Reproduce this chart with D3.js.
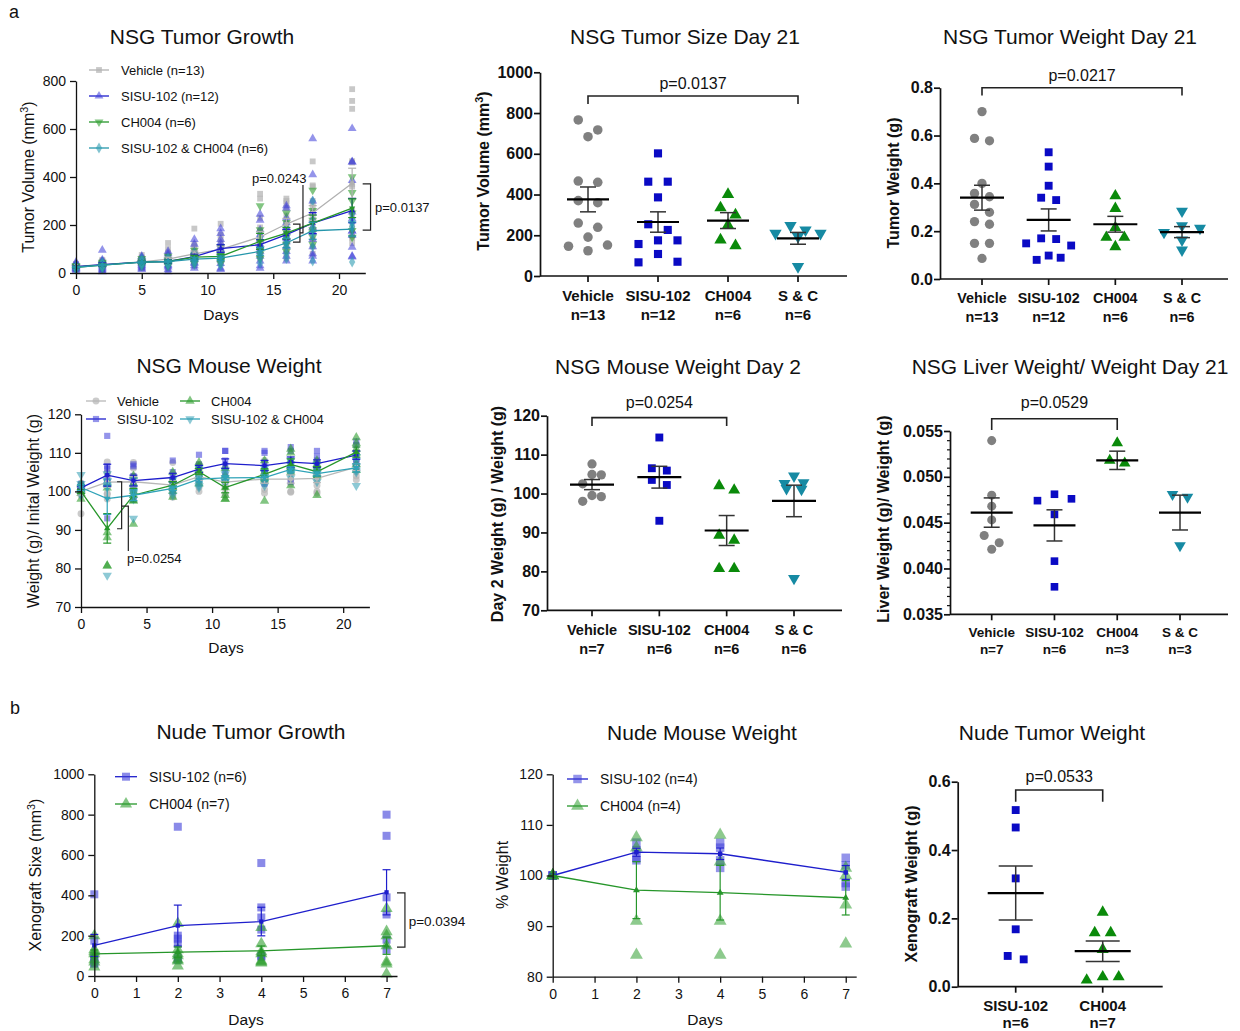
<!DOCTYPE html>
<html lang="en">
<head>
<meta charset="utf-8">
<title>NSG and Nude xenograft panels</title>
<style>
  body { margin: 0; background: #fff; }
  svg { font-family: "Liberation Sans", Arial, Helvetica, sans-serif; }
  text { fill: #111; }
</style>
</head>
<body>
<svg id="fig" width="1240" height="1031"></svg>
<script src="https://cdn.jsdelivr.net/npm/d3@7"></script>
<script>
// ---------- a: NSG tumor growth (mm3), per day ----------
var tgDays = [0, 2, 5, 7, 9, 11, 14, 16, 18, 21];
var tgNames = ["Vehicle (n=13)", "SISU-102 (n=12)", "CH004 (n=6)", "SISU-102 & CH004 (n=6)"];
var tgVehicleMean = [28, 35, 46, 58, 80, 98, 150, 204, 250, 374];
var tgSisuMean = [26, 35, 45, 48, 68, 102, 118, 160, 208, 260];
var tgCh004Mean = [24, 33, 45, 48, 66, 69, 132, 166, 208, 270];
var tgComboMean = [24, 33, 45, 48, 58, 62, 90, 125, 176, 183];
var tgVehiclePts = [
  [15, 18, 20, 22, 24, 25, 26, 28, 30, 30, 32, 35, 38],
  [15, 20, 25, 28, 30, 32, 35, 38, 40, 45, 48, 50, 55],
  [20, 25, 30, 35, 40, 42, 45, 50, 55, 60, 62, 65, 75],
  [20, 30, 35, 40, 45, 50, 55, 60, 65, 75, 85, 100, 125],
  [30, 40, 45, 55, 60, 65, 75, 80, 90, 100, 110, 120, 185],
  [40, 50, 60, 70, 80, 85, 95, 100, 110, 120, 140, 160, 205],
  [60, 80, 95, 110, 120, 130, 140, 155, 170, 190, 230, 310, 330],
  [60, 80, 110, 130, 150, 170, 190, 210, 240, 270, 290, 300, 310],
  [80, 110, 140, 170, 200, 220, 240, 260, 280, 300, 360, 365, 465],
  [766, 717, 684, 466, 460, 370, 360, 260, 239, 191, 152, 146, 124]
];
var tgSisuPts = [
  [10, 15, 18, 20, 22, 25, 28, 30, 32, 35, 40, 45],
  [5, 10, 15, 20, 25, 30, 35, 40, 45, 50, 55, 95],
  [15, 20, 25, 30, 35, 40, 45, 50, 55, 60, 65, 70],
  [5, 15, 25, 30, 35, 45, 50, 55, 60, 70, 80, 90],
  [20, 30, 40, 45, 55, 60, 65, 75, 80, 90, 120, 140],
  [15, 20, 40, 55, 70, 85, 100, 110, 125, 140, 165, 185],
  [20, 30, 50, 70, 90, 110, 120, 140, 160, 180, 220, 245],
  [50, 70, 90, 110, 130, 150, 170, 190, 210, 230, 270, 280],
  [50, 70, 80, 110, 140, 170, 190, 220, 250, 300, 410, 560],
  [602, 463, 463, 386, 254, 226, 175, 175, 157, 108, 70, 67]
];
var tgCh004Pts = [
  [15, 20, 22, 25, 28, 30],
  [20, 25, 30, 35, 40, 45],
  [30, 35, 40, 45, 50, 60],
  [30, 35, 45, 50, 55, 70],
  [40, 50, 60, 65, 75, 95],
  [40, 50, 60, 70, 80, 110],
  [60, 80, 100, 130, 180, 280],
  [90, 120, 150, 170, 210, 250],
  [120, 150, 180, 220, 260, 345],
  [401, 335, 300, 250, 177, 149]
];
var tgComboPts = [
  [15, 18, 20, 22, 25, 30],
  [20, 25, 30, 35, 40, 45],
  [30, 35, 40, 45, 50, 60],
  [30, 35, 40, 50, 55, 65],
  [35, 45, 55, 60, 70, 85],
  [30, 45, 55, 65, 70, 95],
  [40, 60, 80, 95, 115, 150],
  [60, 80, 110, 130, 150, 190],
  [50, 110, 160, 190, 220, 300],
  [46, 193, 209, 209, 226, 247]
];

// ---------- a: NSG mouse weight (% of initial) ----------
var mwDays = [0, 2, 4, 7, 9, 11, 14, 16, 18, 21];
var mwNames = ["Vehicle", "SISU-102", "CH004", "SISU-102 & CH004"];
var mwVehicleMean = [100, 102.4, 102.5, 101.6, 103.8, 102.4, 103.2, 103.2, 103.4, 106.3];
var mwSisuMean = [100.9, 104.2, 102.8, 103.6, 105.8, 107.2, 106.7, 107.6, 107.2, 109.4];
var mwCh004Mean = [100, 90.4, 99, 101.6, 105.1, 101, 104.4, 107, 105.1, 110.2];
var mwComboMean = [101, 98.1, 99, 100.8, 103.2, 103.5, 103.6, 105.7, 104.6, 106.1];
var mwVehiclePts = [
  [94.2, 99, 100, 100, 100.5, 101, 102],
  [107.6, 104.9, 104.8, 102.5, 99.5, 99.2, 98],
  [107.5, 106, 104, 102, 100.5, 99.5, 98],
  [107.5, 103, 102, 101.5, 100, 99, 98.5],
  [107, 105, 104, 103.5, 102, 101, 100],
  [106, 104, 103, 102, 101, 99.5, 99],
  [108, 105, 104, 103, 102, 100.5, 99.5],
  [107, 106, 104.5, 103, 102, 100, 99.8],
  [107.5, 106, 104.5, 103, 101.5, 100, 99.5],
  [110, 108, 107, 106, 105, 104, 103]
];
var mwSisuPts = [
  [100, 100.5, 101, 101, 101.5, 102],
  [114.4, 106.5, 105.9, 103.5, 102.2, 93],
  [107, 106.5, 104, 102, 101, 98],
  [108, 105, 104, 103, 102.5, 100],
  [109.5, 107, 106.5, 105.5, 104, 103],
  [110.5, 110.5, 108, 106.5, 105, 103],
  [110.5, 110, 107.5, 106, 104.5, 102],
  [111.5, 110.5, 108, 106.5, 106, 102.5],
  [110.5, 109, 108, 106.5, 105.5, 104],
  [113, 112, 110, 108.5, 107, 106.5]
];
var mwCh004Pts = [
  [98, 99.5, 100, 100.5, 101, 102],
  [102, 100.9, 89.3, 88, 80.7, 80.7],
  [104, 102, 100, 99, 97.5, 91.5],
  [105, 103, 102, 101, 100, 98.5],
  [107.5, 106.5, 105.5, 105, 104, 102],
  [106, 104, 101, 99, 98, 98],
  [108, 106, 105, 104, 103, 97.5],
  [111, 110, 108, 106.5, 105, 101.5],
  [108, 107, 106, 104.5, 104, 99],
  [114, 112.5, 111, 110, 107, 105.5]
];
var mwComboPts = [
  [104.3, 102, 101, 100.5, 99.5, 99],
  [104.5, 102.8, 102.6, 101.3, 101.1, 78.2],
  [103, 101, 100, 99.5, 98, 93],
  [103, 102, 101, 100.5, 100, 99],
  [106, 104.5, 103, 102.5, 101.5, 101],
  [105.5, 104.5, 103.5, 103, 102.5, 102],
  [106, 105, 103.5, 103, 102.5, 101.5],
  [108, 107, 105.5, 105, 104.5, 103.5],
  [107, 105.5, 104.5, 104, 103.5, 102.5],
  [109, 108, 106.5, 105.5, 105, 101.5]
];

// ---------- a: day-21 / day-2 dot plots ----------
var nsgCats = ["Vehicle", "SISU-102", "CH004", "S & C"];
var sizeN = ["n=13", "n=12", "n=6", "n=6"];
var sizeVals = [
  [766, 717, 684, 466, 460, 370, 360, 260, 239, 191, 152, 146, 124],
  [602, 463, 463, 386, 254, 226, 175, 175, 157, 108, 70, 67],
  [401, 335, 300, 250, 177, 149],
  [247, 226, 209, 209, 193, 46]
];
var sizeMean = [376, 265, 272, 185];
var sizeSem = [61, 50, 39, 29];

var weightN = ["n=13", "n=12", "n=6", "n=6"];
var weightVals = [
  [0.70, 0.588, 0.578, 0.40, 0.358, 0.344, 0.312, 0.279, 0.24, 0.229, 0.149, 0.149, 0.086],
  [0.53, 0.47, 0.39, 0.34, 0.33, 0.17, 0.167, 0.149, 0.14, 0.098, 0.089, 0.08],
  [0.348, 0.295, 0.215, 0.174, 0.174, 0.135],
  [0.284, 0.223, 0.212, 0.195, 0.163, 0.121]
];
var weightMean = [0.34, 0.247, 0.229, 0.196];
var weightSem = [0.052, 0.046, 0.033, 0.023];

var day2N = ["n=7", "n=6", "n=6", "n=6"];
var day2Vals = [
  [107.6, 104.9, 104.8, 102.5, 99.5, 99.2, 98],
  [114.4, 106.5, 105.9, 103.5, 102.2, 93],
  [102, 100.9, 89.3, 88, 80.7, 80.7],
  [104.5, 102.8, 102.6, 101.3, 101.1, 78.2]
];
var day2Mean = [102.3, 104.2, 90.5, 98.1];
var day2Sem = [1.3, 2.8, 3.85, 4.05];

var liverN = ["n=7", "n=6", "n=3", "n=3"];
var liverVals = [
  [0.05395, 0.048, 0.0468, 0.0453, 0.0436, 0.0428, 0.0421],
  [0.0481, 0.0476, 0.0474, 0.0459, 0.0408, 0.038],
  [0.0537, 0.0518, 0.0515],
  [0.0481, 0.0478, 0.0425]
];
var liverMean = [0.0461, 0.0447, 0.0518, 0.0461];
var liverSem = [0.0016, 0.0017, 0.0010, 0.0019];

// ---------- b: nude mice ----------
var nudeDays = [0, 2, 4, 7];
var ngNames = ["SISU-102 (n=6)", "CH004 (n=7)"];
var ngSisuMean = [152, 250, 270, 415];
var ngCh004Mean = [110, 118, 125, 150];
var ngSisuPts = [
  [405, 175, 100, 80, 65, 60],
  [740, 200, 185, 160, 90, 80],
  [560, 340, 290, 230, 100, 95],
  [800, 695, 390, 305, 180, 130]
];
var ngCh004Pts = [
  [200, 130, 120, 110, 80, 70, 45],
  [260, 130, 110, 100, 80, 75, 50],
  [240, 160, 120, 110, 75, 70, 65],
  [335, 220, 200, 150, 70, 60, 10]
];

var nmNames = ["SISU-102 (n=4)", "CH004 (n=4)"];
var nmSisuMean = [100, 104.6, 104.3, 100.6];
var nmCh004Mean = [100, 97.1, 96.6, 95.6];
var nmSisuPts = [
  [100, 100, 100, 100],
  [106.5, 105, 103.5, 103],
  [106.5, 105.5, 103, 101.5],
  [103.5, 102, 98.5, 97.8]
];
var nmCh004Pts = [
  [100, 100, 100, 100],
  [107.5, 105.5, 91, 84.3],
  [108, 102.7, 91, 84.3],
  [101.5, 100, 94.2, 86.5]
];

var nudeCats = ["SISU-102", "CH004"];
var nudeN = ["n=6", "n=7"];
var nudeVals = [
  [0.517, 0.466, 0.317, 0.168, 0.09, 0.08],
  [0.218, 0.158, 0.158, 0.109, 0.029, 0.029, 0.0195]
];
var nudeMean = [0.274, 0.104];
var nudeSem = [0.079, 0.030];

// ================= drawing =================
var svg = d3.select("#fig");
var FONT = "'Liberation Sans', Arial, Helvetica, sans-serif";

var shapeTypes = {
  circle: d3.symbolCircle, square: d3.symbolSquare, up: d3.symbolTriangle,
  down: d3.symbolTriangle, diamond: d3.symbolDiamond
};
function shape(name, size) { return d3.symbol().type(shapeTypes[name]).size(size)(); }
function place(px, py, name) {
  return "translate(" + px + "," + py + ")" + (name === "down" ? " rotate(180)" : "");
}

function label(g, x, y, txt, o) {
  o = o || {};
  var t = g.append("text")
    .attr("x", x).attr("y", y).attr("dy", "0.35em")
    .attr("text-anchor", o.anchor || "middle")
    .style("font-size", (o.size || 14) + "px")
    .style("font-weight", o.bold ? 700 : 400)
    .text(txt);
  if (o.rotate) t.attr("transform", "rotate(-90," + x + "," + y + ")");
  return t;
}
// text with a superscript "3" then ")"
function supLabel(g, x, y, pre, o) {
  var t = label(g, x, y, pre, o);
  t.append("tspan").attr("dy", "-0.5em").style("font-size", "0.68em").text("3");
  t.append("tspan").attr("dy", "0.34em").text(")");
  return t;
}

function styleAxis(a, size, bold, width) {
  a.attr("font-family", FONT).attr("font-size", size);
  a.selectAll("path, line").attr("stroke", "#111").attr("stroke-width", width);
  a.selectAll("text").attr("fill", "#111").style("font-weight", bold ? 700 : 400);
}

function polyline(g, pts, x, y, w) {
  g.append("path")
    .attr("d", d3.line().x(function(d) { return x(d[0]); }).y(function(d) { return y(d[1]); })(pts))
    .attr("fill", "none").attr("stroke", "#222").attr("stroke-width", w || 1.3);
}

function growthPanel(p) {
  var g = svg.append("g");
  var x = d3.scaleLinear().domain([0, p.xMax]).range([p.left, p.right]);
  var y = d3.scaleLinear().domain(p.yDomain).range([p.bottom, p.top]);

  // individual animals
  var flat = [];
  p.series.forEach(function(s) {
    s.pts.forEach(function(arr, i) {
      arr.forEach(function(v) { flat.push({ s: s, day: p.days[i], v: v }); });
    });
  });
  g.selectAll("path.pt").data(flat).enter().append("path")
    .attr("class", "pt")
    .attr("d", function(d) { return shape(d.s.shape, p.ptSize); })
    .attr("transform", function(d) { return place(x(d.day), y(d.v), d.s.shape); })
    .attr("fill", function(d) { return d.s.pt; })
    .attr("fill-opacity", function(d) { return d.s.op; });

  // mean lines with SEM
  var line = d3.line().x(function(d) { return x(d.day); }).y(function(d) { return y(d.m); });
  p.series.forEach(function(s) {
    var rows = p.days.map(function(day, i) {
      var arr = s.pts[i];
      return { day: day, m: s.mean[i], e: d3.deviation(arr) / Math.sqrt(arr.length) };
    });
    g.append("path").datum(rows).attr("d", line)
      .attr("fill", "none").attr("stroke", s.line).attr("stroke-width", 1.3);
    var eb = g.selectAll(null).data(rows).enter().append("g")
      .attr("stroke", s.line).attr("stroke-width", 1.2);
    eb.append("line")
      .attr("x1", function(d) { return x(d.day); }).attr("x2", function(d) { return x(d.day); })
      .attr("y1", function(d) { return y(d.m - d.e); }).attr("y2", function(d) { return y(d.m + d.e); });
    [-1, 1].forEach(function(sg) {
      eb.append("line")
        .attr("x1", function(d) { return x(d.day) - p.cap; }).attr("x2", function(d) { return x(d.day) + p.cap; })
        .attr("y1", function(d) { return y(d.m + sg * d.e); }).attr("y2", function(d) { return y(d.m + sg * d.e); });
    });
    g.selectAll(null).data(rows).enter().append("path")
      .attr("d", shape(s.shape, p.meanSize))
      .attr("transform", function(d) { return place(x(d.day), y(d.m), s.shape); })
      .attr("fill", s.line);
  });

  // axes
  var xa = g.append("g").attr("transform", "translate(0," + p.bottom + ")")
    .call(d3.axisBottom(x).tickValues(p.xTicks).tickFormat(d3.format("d")).tickSize(6).tickPadding(6).tickSizeOuter(0));
  styleAxis(xa, 14, false, 1.3);
  var ya = g.append("g").attr("transform", "translate(" + p.left + ",0)")
    .call(d3.axisLeft(y).tickValues(p.yTicks).tickFormat(d3.format("d")).tickSize(6).tickPadding(4).tickSizeOuter(0));
  styleAxis(ya, 14, false, 1.3);

  // legend
  p.series.forEach(function(s, i) {
    var L = p.legend[i];
    g.append("line").attr("x1", L[0]).attr("x2", L[0] + p.legLen).attr("y1", L[1]).attr("y2", L[1])
      .attr("stroke", s.line).attr("stroke-width", 1.3);
    g.append("path").attr("d", shape(s.shape, p.ptSize))
      .attr("transform", place(L[0] + p.legLen / 2, L[1], s.shape))
      .attr("fill", s.pt).attr("fill-opacity", s.op);
    label(g, L[0] + p.legLen + p.legGap, L[1], p.names[i], { anchor: "start", size: p.legSize });
  });

  // significance brackets
  p.notes.forEach(function(n) {
    n.lines.forEach(function(l) { polyline(g, l, x, y, 1.2); });
    label(g, x(n.tx), y(n.ty), n.text, { anchor: "start", size: n.size });
  });

  label(g, p.title[0], p.title[1], p.title[2], { size: 21 });
  label(g, p.xlab[0], p.xlab[1], "Days", { size: 15.5 });
  if (p.ysup) supLabel(g, p.ylab[0], p.ylab[1], p.ylab[2], { size: 16, rotate: true });
  else label(g, p.ylab[0], p.ylab[1], p.ylab[2], { size: 16, rotate: true });
}

// group close values into rows and spread them sideways
function swarm(vals, y, h, step) {
  var order = vals.map(function(v, i) { return i; })
    .sort(function(a, b) { return vals[b] - vals[a]; });
  var off = new Array(vals.length);
  var i = 0;
  while (i < order.length) {
    var top = y(vals[order[i]]);
    var grp = [order[i]];
    var j = i + 1;
    while (j < order.length && y(vals[order[j]]) - top < h) { grp.push(order[j]); j++; }
    var odd = grp.length % 2 === 1;
    var s2 = Math.max(step, 15);
    var seq = odd ? [0, 1, -1, 2, -2, 3, -3] : [-0.5, 0.5, -1.5, 1.5, -2.5, 2.5];
    grp.forEach(function(k, m) { off[k] = seq[m] * (odd ? step : s2); });
    i = j;
  }
  return off;
}

function dotPanel(p) {
  var g = svg.append("g");
  var x = d3.scalePoint().domain(p.cats).range([p.c0, p.c1]);
  var y = d3.scaleLinear().domain(p.yDomain).range([p.bottom, p.top]);

  p.cats.forEach(function(c, gi) {
    var vals = p.vals[gi];
    var off = swarm(vals, y, 10, p.steps[gi]);
    g.selectAll(null).data(vals).enter().append("path")
      .attr("d", shape(p.shapes[gi], p.shapes[gi] === "circle" ? p.size + 6 : p.size))
      .attr("transform", function(v, i) { return place(x(c) + off[i], y(v), p.shapes[gi]); })
      .attr("fill", p.colors[gi]);
  });

  // mean +/- SEM
  p.cats.forEach(function(c, gi) {
    var cx = x(c), m = p.mean[gi], e = p.sem[gi];
    var eg = g.append("g").attr("stroke", "#333").attr("stroke-width", 1.5);
    eg.append("line").attr("x1", cx).attr("x2", cx).attr("y1", y(m - e)).attr("y2", y(m + e));
    [m - e, m + e].forEach(function(v) {
      eg.append("line").attr("x1", cx - p.capHalf).attr("x2", cx + p.capHalf).attr("y1", y(v)).attr("y2", y(v));
    });
    g.append("line").attr("x1", cx - p.meanHalf).attr("x2", cx + p.meanHalf).attr("y1", y(m)).attr("y2", y(m))
      .attr("stroke", "#000").attr("stroke-width", 2.2);
  });

  // y axis
  var ya = g.append("g").attr("transform", "translate(" + p.left + ",0)")
    .call(d3.axisLeft(y).tickValues(p.yTicks).tickFormat(p.fmt).tickSize(6).tickPadding(1).tickSizeOuter(0));
  styleAxis(ya, 16, true, 1.7);
  if (p.minor) {
    var mi = g.append("g").attr("transform", "translate(" + p.left + ",0)")
      .call(d3.axisLeft(y).tickValues(p.minor).tickFormat("").tickSize(3).tickSizeOuter(0));
    styleAxis(mi, 10, false, 1.2);
    mi.select(".domain").remove();
  }
  // x axis
  g.append("line").attr("x1", p.left).attr("x2", p.axisEnd).attr("y1", p.bottom).attr("y2", p.bottom)
    .attr("stroke", "#111").attr("stroke-width", 1.7);
  p.cats.forEach(function(c, gi) {
    g.append("line").attr("x1", x(c)).attr("x2", x(c)).attr("y1", p.bottom).attr("y2", p.bottom + 6)
      .attr("stroke", "#111").attr("stroke-width", 1.7);
    label(g, x(c), p.catY[0], c, { size: p.catSize, bold: true });
    label(g, x(c), p.catY[1], p.ns[gi], { size: p.catSize, bold: true });
  });

  // bracket
  var b = p.bracket;
  var bx0 = x(p.cats[b.a]), bx1 = x(p.cats[b.b]);
  g.append("path")
    .attr("d", "M" + bx0 + "," + y(b.low) + "V" + y(b.high) + "H" + bx1 + "V" + y(b.low))
    .attr("fill", "none").attr("stroke", "#222").attr("stroke-width", 1.6);
  label(g, (bx0 + bx1) / 2, y(b.ty), b.text, { size: 16 });

  label(g, p.title[0], p.title[1], p.title[2], { size: 21 });
  if (p.ysup) supLabel(g, p.ylab[0], p.ylab[1], p.ylab[2], { size: 16, bold: true, rotate: true });
  else label(g, p.ylab[0], p.ylab[1], p.ylab[2], { size: 16, bold: true, rotate: true });
}

var GRAY = "#b5b5b5", GREEN = "#2f9e2f", TEAL = "#2f9db3";
var DGRAY = "#808080", DBLUE = "#0a0ac4", DGREEN = "#0a8a0a", DTEAL = "#168aa3";

label(svg, 14, 12, "a", { size: 18 });
label(svg, 15, 708, "b", { size: 18 });

// NSG tumor growth
growthPanel({
  days: tgDays, names: tgNames, xMax: 22, left: 76, right: 365.3, yDomain: [0, 800], bottom: 273, top: 81,
  xTicks: [0, 5, 10, 15, 20], yTicks: [0, 200, 400, 600, 800], ptSize: 34, meanSize: 16, cap: 4,
  series: [
    { pts: tgVehiclePts, mean: tgVehicleMean, shape: "square", pt: GRAY, op: 0.75, line: "#b0b0b0" },
    { pts: tgSisuPts, mean: tgSisuMean, shape: "up", pt: "#3c3cd8", op: 0.55, line: "#1e1ecc" },
    { pts: tgCh004Pts, mean: tgCh004Mean, shape: "down", pt: GREEN, op: 0.6, line: "#26962a" },
    { pts: tgComboPts, mean: tgComboMean, shape: "diamond", pt: TEAL, op: 0.6, line: "#2596ab" }
  ],
  legend: [[89, 70], [89, 96], [89, 122], [89, 148]], legLen: 20, legGap: 12, legSize: 13,
  notes: [
    { lines: [[[16.5, 204], [17.03, 204], [17.03, 129], [16.5, 129]], [[17.03, 167], [17.26, 167], [17.26, 367]]],
      text: "p=0.0243", tx: 13.38, ty: 396, size: 13 },
    { lines: [[[21.8, 371], [22.4, 371], [22.4, 179], [21.8, 179]]], text: "p=0.0137", tx: 22.74, ty: 275, size: 13 }
  ],
  title: [202, 37, "NSG Tumor Growth"], xlab: [221, 315], ylab: [28, 177, "Tumor Volume (mm"], ysup: true
});

// NSG mouse weight
growthPanel({
  days: mwDays, names: mwNames, xMax: 22, left: 81, right: 369.4, yDomain: [70, 120], bottom: 607, top: 414.3,
  xTicks: [0, 5, 10, 15, 20], yTicks: [70, 80, 90, 100, 110, 120], ptSize: 38, meanSize: 18, cap: 4,
  series: [
    { pts: mwVehiclePts, mean: mwVehicleMean, shape: "circle", pt: GRAY, op: 0.7, line: "#b8b8b8" },
    { pts: mwSisuPts, mean: mwSisuMean, shape: "square", pt: "#3c3cd8", op: 0.55, line: "#1e1ecc" },
    { pts: mwCh004Pts, mean: mwCh004Mean, shape: "up", pt: GREEN, op: 0.6, line: "#26962a" },
    { pts: mwComboPts, mean: mwComboMean, shape: "down", pt: TEAL, op: 0.55, line: "#2fa3b8" }
  ],
  legend: [[86, 401], [86, 419], [180, 401], [180, 419]], legLen: 20, legGap: 11, legSize: 13,
  notes: [
    { lines: [[[2.75, 102.5], [3.1, 102.5], [3.1, 90.3], [2.75, 90.3]], [[3.1, 96.2], [3.61, 96.2], [3.61, 84.5]]],
      text: "p=0.0254", tx: 3.51, ty: 82.7, size: 13 }
  ],
  title: [229, 366, "NSG Mouse Weight"], xlab: [226, 648], ylab: [33, 511, "Weight (g)/ Inital Weight (g)"]
});

// Nude tumor growth
growthPanel({
  days: nudeDays, names: ngNames, xMax: 7.25, left: 94.3, right: 397, yDomain: [0, 1000], bottom: 976, top: 774.3,
  xTicks: [0, 1, 2, 3, 4, 5, 6, 7], yTicks: [0, 200, 400, 600, 800, 1000], ptSize: 64, meanSize: 18, cap: 4,
  series: [
    { pts: ngSisuPts, mean: ngSisuMean, shape: "square", pt: "#3c3cd8", op: 0.6, line: "#1e1ecc" },
    { pts: ngCh004Pts, mean: ngCh004Mean, shape: "up", pt: GREEN, op: 0.6, line: "#26962a" }
  ],
  legend: [[115, 776.7], [115, 804]], legLen: 22, legGap: 12, legSize: 14,
  notes: [
    { lines: [[[7.25, 412], [7.44, 412], [7.44, 143], [7.25, 143]]], text: "p=0.0394", tx: 7.53, ty: 273, size: 13.5 }
  ],
  title: [251, 732, "Nude Tumor Growth"], xlab: [246, 1020], ylab: [35, 875, "Xenograft Sixe (mm"], ysup: true
});

// Nude mouse weight
growthPanel({
  days: nudeDays, names: nmNames, xMax: 7.25, left: 552.7, right: 856.2, yDomain: [80, 120], bottom: 976.7, top: 774.3,
  xTicks: [0, 1, 2, 3, 4, 5, 6, 7], yTicks: [80, 90, 100, 110, 120], ptSize: 72, meanSize: 20, cap: 4,
  series: [
    { pts: nmSisuPts, mean: nmSisuMean, shape: "square", pt: "#3c3cd8", op: 0.55, line: "#1e1ecc" },
    { pts: nmCh004Pts, mean: nmCh004Mean, shape: "up", pt: GREEN, op: 0.55, line: "#26962a" }
  ],
  legend: [[567, 779], [567, 806]], legLen: 21, legGap: 12, legSize: 14,
  notes: [],
  title: [702, 733, "Nude Mouse Weight"], xlab: [705, 1020], ylab: [502, 875, "% Weight"]
});

var nsgShapes = ["circle", "square", "up", "down"];
var nsgColors = [DGRAY, DBLUE, DGREEN, DTEAL];

dotPanel({
  cats: nsgCats, ns: sizeN, vals: sizeVals, mean: sizeMean, sem: sizeSem, shapes: nsgShapes, colors: nsgColors,
  yDomain: [0, 1000], bottom: 276, top: 72.3, yTicks: [0, 200, 400, 600, 800, 1000], fmt: d3.format("d"),
  left: 540, axisEnd: 847, c0: 588, c1: 798, steps: [19.5, 19.5, 9, 9.5], size: 66, meanHalf: 21, capHalf: 8,
  catY: [296, 315], catSize: 15, bracket: { a: 0, b: 3, high: 884, low: 844, ty: 947, text: "p=0.0137" },
  title: [685, 37, "NSG Tumor Size Day 21"], ylab: [483, 171, "Tumor Volume (mm"], ysup: true
});

dotPanel({
  cats: nsgCats, ns: weightN, vals: weightVals, mean: weightMean, sem: weightSem, shapes: nsgShapes, colors: nsgColors,
  yDomain: [0, 0.8], bottom: 279, top: 87.7, yTicks: [0, 0.2, 0.4, 0.6, 0.8], fmt: d3.format(".1f"),
  left: 940, axisEnd: 1228, c0: 982, c1: 1182, steps: [8.5, 12, 9, 18], size: 62, meanHalf: 22, capHalf: 8,
  catY: [298, 317], catSize: 14.3, bracket: { a: 0, b: 3, high: 0.8, low: 0.767, ty: 0.853, text: "p=0.0217" },
  title: [1070, 37, "NSG Tumor Weight Day 21"], ylab: [893, 183, "Tumor Weight (g)"]
});

dotPanel({
  cats: nsgCats, ns: day2N, vals: day2Vals, mean: day2Mean, sem: day2Sem, shapes: nsgShapes, colors: nsgColors,
  yDomain: [70, 120], bottom: 610.3, top: 415.7, yTicks: [70, 80, 90, 100, 110, 120], fmt: d3.format("d"),
  left: 547, axisEnd: 842, c0: 592, c1: 794, steps: [9.3, 8.5, 9, 9.5], size: 62, meanHalf: 22, capHalf: 8,
  catY: [630, 649], catSize: 14.5, bracket: { a: 0, b: 2, high: 119.5, low: 117.35, ty: 123.3, text: "p=0.0254" },
  title: [678, 367, "NSG Mouse Weight Day 2"], ylab: [497, 514, "Day 2 Weight (g) / Weight (g)"]
});

dotPanel({
  cats: nsgCats, ns: liverN, vals: liverVals, mean: liverMean, sem: liverSem, shapes: nsgShapes, colors: nsgColors,
  yDomain: [0.035, 0.055], bottom: 614.3, top: 431, yTicks: [0.035, 0.04, 0.045, 0.05, 0.055], fmt: d3.format(".3f"),
  minor: d3.range(36, 55).filter(function(k) { return k % 5 !== 0; }).map(function(k) { return k / 1000; }),
  left: 950, axisEnd: 1228, c0: 991.7, c1: 1180, steps: [9, 17, 9, 9], size: 58, meanHalf: 21, capHalf: 8,
  catY: [632, 649], catSize: 13.5, bracket: { a: 0, b: 2, high: 0.05634, low: 0.05511, ty: 0.05808, text: "p=0.0529" },
  title: [1070, 367, "NSG Liver Weight/ Weight Day 21"], ylab: [883, 519, "Liver Weight (g)/ Weight (g)"]
});

dotPanel({
  cats: nudeCats, ns: nudeN, vals: nudeVals, mean: nudeMean, sem: nudeSem, shapes: ["square", "up"], colors: [DBLUE, DGREEN],
  yDomain: [0, 0.6], bottom: 986.7, top: 781.7, yTicks: [0, 0.2, 0.4, 0.6], fmt: d3.format(".1f"),
  left: 957.7, axisEnd: 1162.7, c0: 1015.7, c1: 1102.7, steps: [16, 16], size: 62, meanHalf: 28, capHalf: 17,
  catY: [1006, 1023], catSize: 15, bracket: { a: 0, b: 1, high: 0.5757, low: 0.5414, ty: 0.6166, text: "p=0.0533" },
  title: [1052, 733, "Nude Tumor Weight"], ylab: [911, 884, "Xenograft Weight (g)"]
});
</script>
</body>
</html>
